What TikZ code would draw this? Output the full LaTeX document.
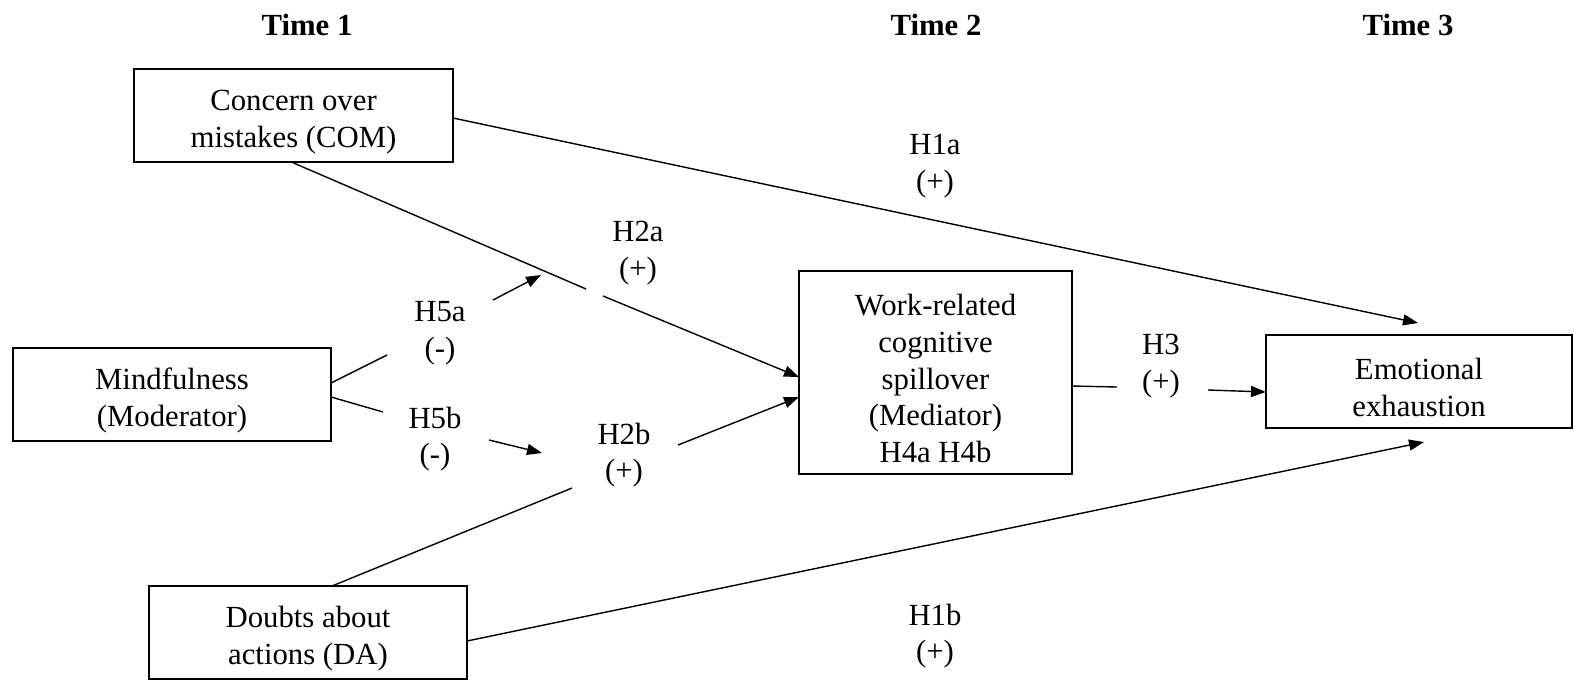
\documentclass[tikz,border=0pt]{standalone}
\usepackage{fontspec}
\setmainfont{Liberation Serif}
\usetikzlibrary{arrows.meta}
\newcommand{\txtsize}{\fontsize{17.5}{20.8}\selectfont}
\newcommand{\up}{\rule{0pt}{19pt}}

\tikzset{
    var/.style={draw=black, line width=1.1pt, inner sep=0pt, align=center, font=\txtsize},
    hyp/.style={align=center, inner sep=0pt, font=\txtsize},
    path/.style={draw=black, line width=0.8pt},
    effect/.style={path, -{Triangle[length=0.3cm, width=0.22cm]}}
}

\begin{document}
\begin{tikzpicture}[x=0.02cm, y=-0.02cm]
    \useasboundingbox (0,0) rectangle (1574,680);

    % time points
    \draw (307,25) node[font=\txtsize\bfseries] (t1) {Time 1};
    \draw (936,25) node[font=\txtsize\bfseries] (t2) {Time 2};
    \draw (1408,25) node[font=\txtsize\bfseries] (t3) {Time 3};

    % variables
    \draw (293.5,115.5) node[var, minimum width=6.38cm, minimum height=1.86cm] (com) {\up Concern over\\mistakes (COM)};
    \draw (172,394.5) node[var, minimum width=6.36cm, minimum height=1.86cm] (mind) {\up Mindfulness\\(Moderator)};
    \draw (308,632.5) node[var, minimum width=6.36cm, minimum height=1.86cm] (da) {\up Doubts about\\actions (DA)};
    \draw (935.5,372.5) node[var, minimum width=5.46cm, minimum height=4.06cm] (med) {\up Work-related\\cognitive\\spillover\\(Mediator)\\H4a H4b};
    \draw (1419,381.5) node[var, minimum width=6.12cm, minimum height=1.86cm] (emo) {\up Emotional\\exhaustion};

    % hypotheses
    \draw (935,166) node[hyp] (h1a) {H1a\\(+)};
    \draw (638,253) node[hyp] (h2a) {H2a\\(+)};
    \draw (440,333) node[hyp] (h5a) {H5a\\(-)};
    \draw (435,439) node[hyp] (h5b) {H5b\\(-)};
    \draw (624,455) node[hyp] (h2b) {H2b\\(+)};
    \draw (1161,366) node[hyp] (h3) {H3\\(+)};
    \draw (935,636) node[hyp] (h1b) {H1b\\(+)};

    \coordinate (comr) at (453,118);
    \coordinate (gapa) at (586,289);
    \coordinate (gapb) at (603,296);
    \coordinate (meda) at (799,377);
    \coordinate (medb) at (799,397);
    \coordinate (medr) at (1072,386);
    \coordinate (mindu) at (331,383);
    \coordinate (mindl) at (331,397);
    \coordinate (h5au) at (387,355);
    \coordinate (h5as) at (493,300);
    \coordinate (h5ae) at (541,275);
    \coordinate (h5bu) at (383,412);
    \coordinate (h5bs) at (489,440);
    \coordinate (h5be) at (542,453);
    \coordinate (h2bs) at (678,445);
    \coordinate (dat) at (332,586);
    \coordinate (h2bu) at (572,488);
    \coordinate (dar) at (467,641);
    \coordinate (h3u) at (1117,387);
    \coordinate (h3s) at (1208,390);
    \coordinate (emol) at (1266,392);
    \coordinate (emot) at (1418,323);
    \coordinate (emob) at (1424,442);

    \draw[effect] (comr) -- (emot);
    \draw[path] (com.south) -- (gapa);
    \draw[effect] (gapb) -- (meda);
    \draw[path] (mindu) -- (h5au);
    \draw[effect] (h5as) -- (h5ae);
    \draw[path] (mindl) -- (h5bu);
    \draw[effect] (h5bs) -- (h5be);
    \draw[path] (dat) -- (h2bu);
    \draw[effect] (h2bs) -- (medb);
    \draw[path] (medr) -- (h3u);
    \draw[effect] (h3s) -- (emol);
    \draw[effect] (dar) -- (emob);
\end{tikzpicture}
\end{document}
